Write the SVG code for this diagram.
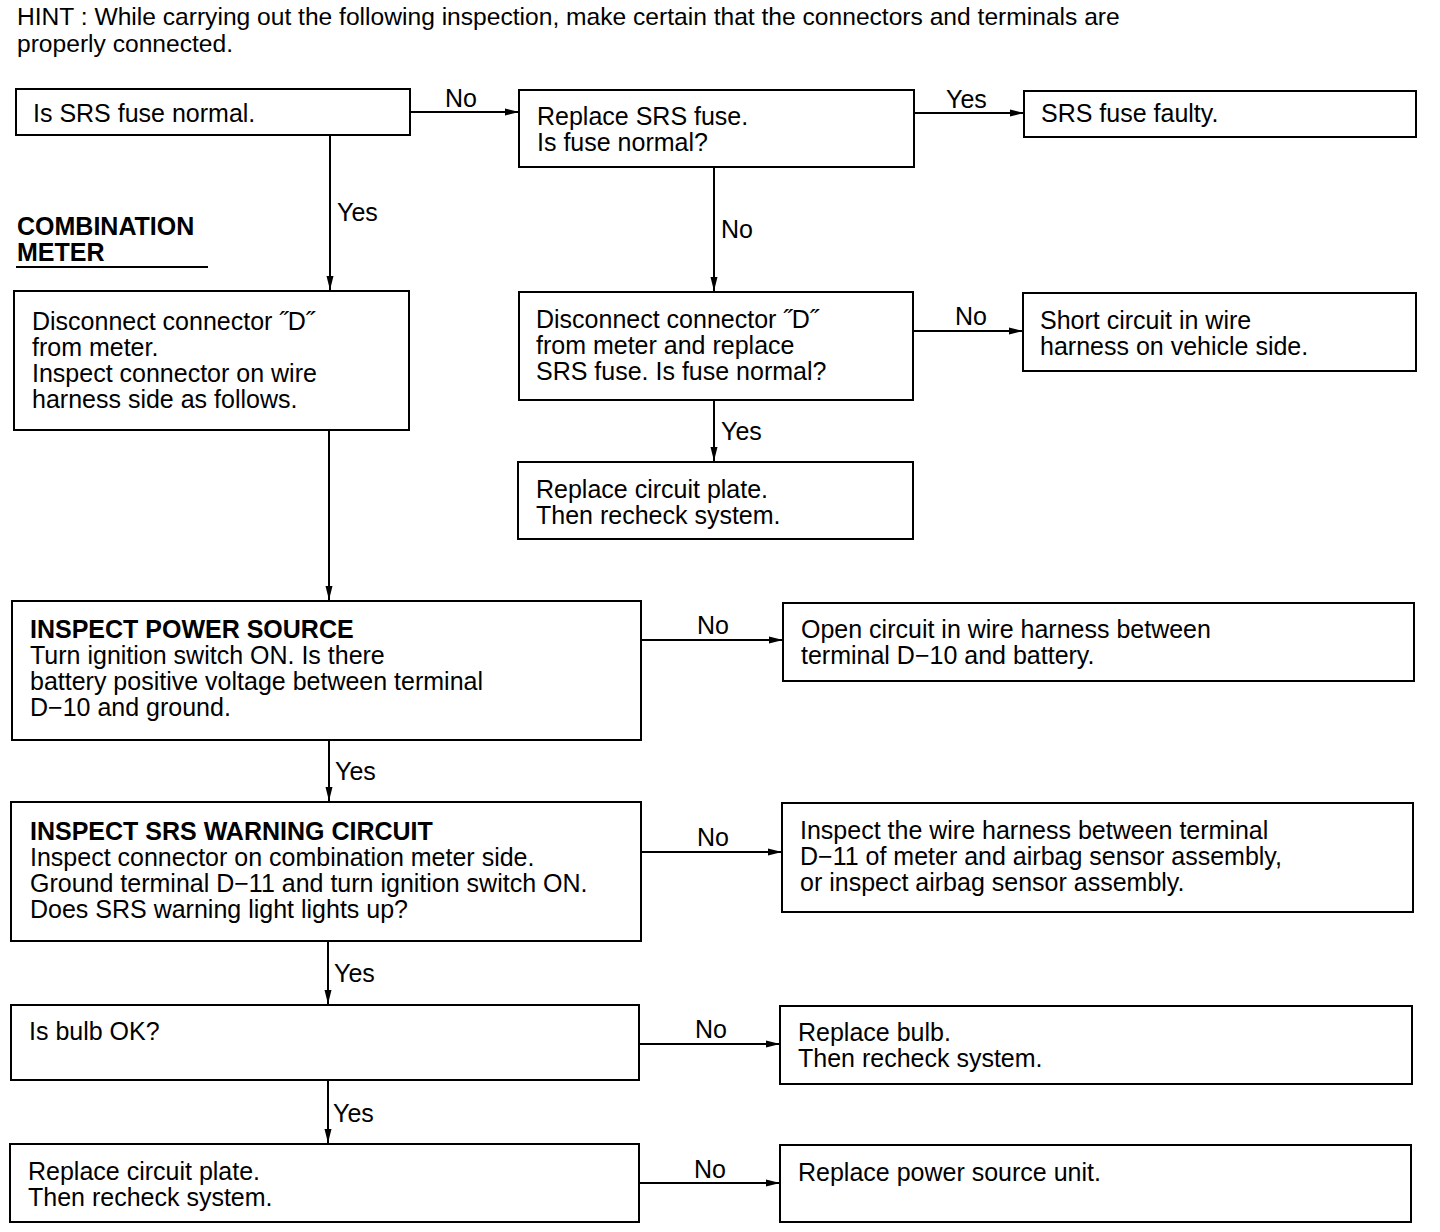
<svg xmlns="http://www.w3.org/2000/svg" width="1440" height="1232" viewBox="0 0 1440 1232">
<defs>
<marker id="ah" markerWidth="14" markerHeight="8" refX="14" refY="4" orient="auto" markerUnits="userSpaceOnUse">
<path d="M0,0.5 L14,4 L0,7.5 Z" fill="#000"/>
</marker>
<style>
text{font-family:"Liberation Sans",Arial,sans-serif;font-size:25px;fill:#000}
.b{font-weight:bold}
.h{font-size:24.6px}
.box{fill:#fff;stroke:#000;stroke-width:2}
.c{stroke:#000;stroke-width:2;fill:none;marker-end:url(#ah)}
</style>
</defs>
<rect width="1440" height="1232" fill="#fff"/>
<text class="h" x="17" y="25">HINT : While carrying out the following inspection, make certain that the connectors and terminals are</text>
<text class="h" x="17" y="52">properly connected.</text>
<text class="b" x="17" y="235">COMBINATION</text>
<text class="b" x="17" y="261">METER</text>
<line x1="16" y1="267" x2="208" y2="267" stroke="#000" stroke-width="2"/>

<g id="connectors">
<line class="c" x1="410" y1="112" x2="519" y2="112"/>
<text x="445" y="107">No</text>
<line class="c" x1="914" y1="113" x2="1024" y2="113"/>
<text x="946" y="108">Yes</text>
<line class="c" x1="330" y1="135" x2="330" y2="290"/>
<text x="337" y="221">Yes</text>
<line class="c" x1="714" y1="167" x2="714" y2="291"/>
<text x="721" y="238">No</text>
<line class="c" x1="913" y1="331" x2="1023" y2="331"/>
<text x="955" y="325">No</text>
<line class="c" x1="714" y1="400" x2="714" y2="461"/>
<text x="721" y="440">Yes</text>
<line class="c" x1="329" y1="430" x2="329" y2="600"/>
<line class="c" x1="641" y1="640" x2="783" y2="640"/>
<text x="697" y="634">No</text>
<line class="c" x1="329" y1="740" x2="329" y2="801"/>
<text x="335" y="780">Yes</text>
<line class="c" x1="641" y1="852" x2="782" y2="852"/>
<text x="697" y="846">No</text>
<line class="c" x1="328" y1="941" x2="328" y2="1004"/>
<text x="334" y="982">Yes</text>
<line class="c" x1="639" y1="1044" x2="780" y2="1044"/>
<text x="695" y="1038">No</text>
<line class="c" x1="328" y1="1080" x2="328" y2="1143"/>
<text x="333" y="1122">Yes</text>
<line class="c" x1="639" y1="1183" x2="780" y2="1183"/>
<text x="694" y="1178">No</text>
</g>

<g id="n1"><rect class="box" x="16" y="89" width="394" height="46"/><text x="33" y="122">Is SRS fuse normal.</text></g>
<g id="n2"><rect class="box" x="519" y="90" width="395" height="77"/><text x="537" y="125">Replace SRS fuse.</text><text x="537" y="151">Is fuse normal?</text></g>
<g id="n3"><rect class="box" x="1024" y="91" width="392" height="46"/><text x="1041" y="122">SRS fuse faulty.</text></g>
<g id="n4"><rect class="box" x="14" y="291" width="395" height="139"/><text x="32" y="330">Disconnect connector ˝D˝</text><text x="32" y="356">from meter.</text><text x="32" y="382">Inspect connector on wire</text><text x="32" y="408">harness side as follows.</text></g>
<g id="n5"><rect class="box" x="519" y="292" width="394" height="108"/><text x="536" y="328">Disconnect connector ˝D˝</text><text x="536" y="354">from meter and replace</text><text x="536" y="380">SRS fuse. Is fuse normal?</text></g>
<g id="n6"><rect class="box" x="1023" y="293" width="393" height="78"/><text x="1040" y="329">Short circuit in wire</text><text x="1040" y="355">harness on vehicle side.</text></g>
<g id="n7"><rect class="box" x="518" y="462" width="395" height="77"/><text x="536" y="498">Replace circuit plate.</text><text x="536" y="524">Then recheck system.</text></g>
<g id="n8"><rect class="box" x="12" y="601" width="629" height="139"/><text class="b" x="30" y="638">INSPECT POWER SOURCE</text><text x="30" y="664">Turn ignition switch ON. Is there</text><text x="30" y="690">battery positive voltage between terminal</text><text x="30" y="716">D−10 and ground.</text></g>
<g id="n9"><rect class="box" x="783" y="603" width="631" height="78"/><text x="801" y="638">Open circuit in wire harness between</text><text x="801" y="664">terminal D−10 and battery.</text></g>
<g id="n10"><rect class="box" x="11" y="802" width="630" height="139"/><text class="b" x="30" y="840">INSPECT SRS WARNING CIRCUIT</text><text x="30" y="866">Inspect connector on combination meter side.</text><text x="30" y="892">Ground terminal D−11 and turn ignition switch ON.</text><text x="30" y="918">Does SRS warning light lights up?</text></g>
<g id="n11"><rect class="box" x="782" y="803" width="631" height="109"/><text x="800" y="839">Inspect the wire harness between terminal</text><text x="800" y="865">D−11 of meter and airbag sensor assembly,</text><text x="800" y="891">or inspect airbag sensor assembly.</text></g>
<g id="n12"><rect class="box" x="11" y="1005" width="628" height="75"/><text x="29" y="1040">Is bulb OK?</text></g>
<g id="n13"><rect class="box" x="780" y="1006" width="632" height="78"/><text x="798" y="1041">Replace bulb.</text><text x="798" y="1067">Then recheck system.</text></g>
<g id="n14"><rect class="box" x="10" y="1144" width="629" height="78"/><text x="28" y="1180">Replace circuit plate.</text><text x="28" y="1206">Then recheck system.</text></g>
<g id="n15"><rect class="box" x="780" y="1145" width="631" height="77"/><text x="798" y="1181">Replace power source unit.</text></g>
</svg>
